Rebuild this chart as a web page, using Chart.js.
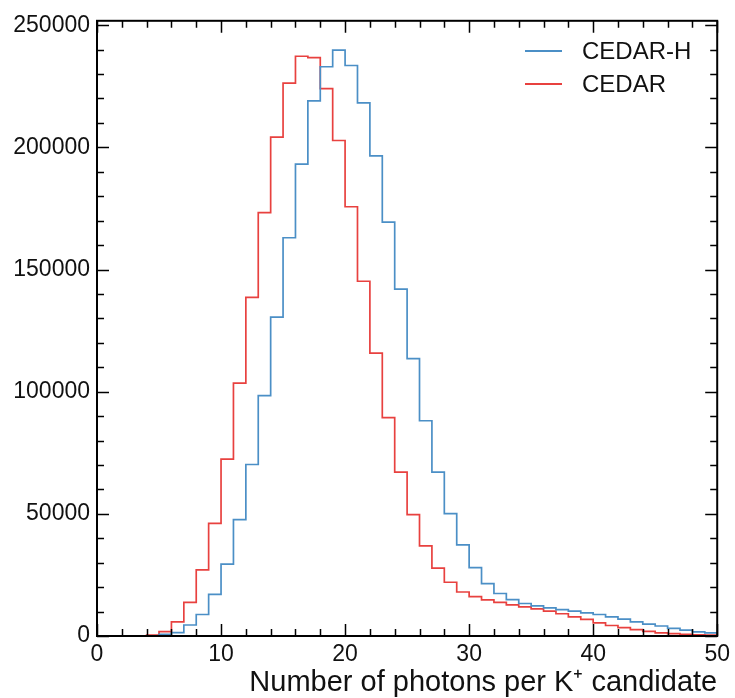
<!DOCTYPE html>
<html>
<head>
<meta charset="utf-8">
<script src="https://cdn.jsdelivr.net/npm/chart.js@4/dist/chart.umd.min.js"></script>
<style>
  html, body { margin: 0; padding: 0; background: #fff; }
  #wrap { width: 735px; height: 698px; }
</style>
</head>
<body>
<div id="wrap"><canvas id="c" width="735" height="698"></canvas></div>
<script>
// ---- data (bin i covers [i, i+1)) ----
const binEdges = [0,1,2,3,4,5,6,7,8,9,10,11,12,13,14,15,16,17,18,19,20,21,22,23,24,25,26,27,28,29,30,31,32,33,34,35,36,37,38,39,40,41,42,43,44,45,46,47,48,49,50];
const cedarH = [0,0,0,0,0,700,1400,4500,8800,17000,29400,47600,70200,98400,130500,163000,193100,219000,233000,239800,233500,218200,196500,169400,142000,113500,88100,67100,50100,37300,28000,21400,17400,14900,13300,12300,11500,10800,10200,9500,8800,7800,6900,5800,4900,4100,3100,2400,1700,1300];
const cedar = [0,0,0,0,400,1800,5800,13800,27100,46100,72400,103500,138600,173300,204200,226300,237300,236700,224000,202800,175700,145200,115800,89400,67100,49700,36900,27800,22000,18000,16100,14800,13800,12700,11900,11100,10200,9100,7800,6800,5400,4300,3400,2600,1900,1300,1000,700,500,400];
const seriesNames = ["CEDAR-H", "CEDAR"];
const xTickValues = [0,10,20,30,40,50];
const yTickValues = [0,50000,100000,150000,200000,250000];
const xMinorStep = 2;
const yMinorStep = 10000;
const xRange = [0, 50];
const yRange = [0, 251800];
const xTitle = "Number of photons per K\u207A candidate";

const FONT = "'Liberation Sans', Arial, Helvetica, sans-serif";
const BLUE = '#4b8fc6';
const RED = '#e8413f';

function histPoints(vals) {
  const pts = vals.map((v, i) => ({ x: binEdges[i], y: v }));
  pts.push({ x: binEdges[vals.length], y: vals[vals.length - 1] });
  return pts;
}

const framePlugin = {
  id: 'frame',
  afterDatasetsDraw(chart) {
    const { ctx, chartArea: a, scales: { x, y } } = chart;
    ctx.save();
    ctx.strokeStyle = '#000';
    ctx.lineWidth = 2;
    ctx.strokeRect(a.left, a.top, a.right - a.left, a.bottom - a.top);
    ctx.lineWidth = 1.5;
    const maj = 12, minr = 7;
    ctx.beginPath();
    for (let v = xRange[0]; v <= xRange[1] + 1e-9; v += xMinorStep) {
      const px = Math.round(x.getPixelForValue(v)) + 0.5;
      const len = xTickValues.includes(v) ? maj : minr;
      ctx.moveTo(px, a.bottom); ctx.lineTo(px, a.bottom - len);
      ctx.moveTo(px, a.top); ctx.lineTo(px, a.top + len);
    }
    for (let v = yRange[0]; v <= yRange[1] + 1e-9; v += yMinorStep) {
      const py = Math.round(y.getPixelForValue(v)) + 0.5;
      const len = yTickValues.includes(v) ? maj : minr;
      ctx.moveTo(a.left, py); ctx.lineTo(a.left + len, py);
      ctx.moveTo(a.right, py); ctx.lineTo(a.right - len, py);
    }
    ctx.stroke();

    // legend inside plot
    const items = chart.data.datasets;
    const lx0 = 525, lx1 = 562, tx = 582;
    const ly = [51, 84];
    ctx.font = '24px ' + FONT;
    ctx.textBaseline = 'middle';
    ctx.textAlign = 'left';
    items.forEach((ds, i) => {
      ctx.strokeStyle = ds.borderColor;
      ctx.lineWidth = 2;
      ctx.beginPath();
      ctx.moveTo(lx0, ly[i]); ctx.lineTo(lx1, ly[i]);
      ctx.stroke();
      ctx.fillStyle = '#111';
      ctx.fillText(ds.label, tx, ly[i] + 1);
    });
    ctx.restore();
  }
};

new Chart(document.getElementById('c'), {
  type: 'line',
  data: {
    datasets: [
      { label: seriesNames[0], data: histPoints(cedarH), borderColor: BLUE, borderWidth: 1.7, stepped: true, pointRadius: 0, fill: false },
      { label: seriesNames[1], data: histPoints(cedar), borderColor: RED, borderWidth: 1.7, stepped: true, pointRadius: 0, fill: false }
    ]
  },
  options: {
    responsive: false,
    animation: false,
    events: [],
    layout: { padding: { left: 0, top: 18, right: 16, bottom: 0 } },
    plugins: { legend: { display: false }, tooltip: { enabled: false } },
    scales: {
      x: {
        type: 'linear',
        min: xRange[0], max: xRange[1],
        grid: { display: false, drawTicks: false },
        border: { display: false },
        afterBuildTicks: s => { s.ticks = xTickValues.map(v => ({ value: v })); },
        afterFit: s => { s.height = 62; },
        ticks: {
          color: '#111', padding: 5, maxRotation: 0,
          font: { family: FONT, size: 23 },
          callback: v => String(v)
        },
        title: {
          display: true, text: xTitle, align: 'end', color: '#111',
          font: { family: FONT, size: 29, lineHeight: 1.0 },
          padding: { top: 0, bottom: 1 }
        }
      },
      y: {
        type: 'linear',
        min: yRange[0], max: yRange[1],
        grid: { display: false, drawTicks: false },
        border: { display: false },
        afterBuildTicks: s => { s.ticks = yTickValues.map(v => ({ value: v })); },
        afterFit: s => { s.width = 97; },
        ticks: {
          color: '#111', padding: 7,
          font: { family: FONT, size: 23 },
          callback: v => String(v)
        }
      }
    }
  },
  plugins: [framePlugin]
});
</script>
</body>
</html>
